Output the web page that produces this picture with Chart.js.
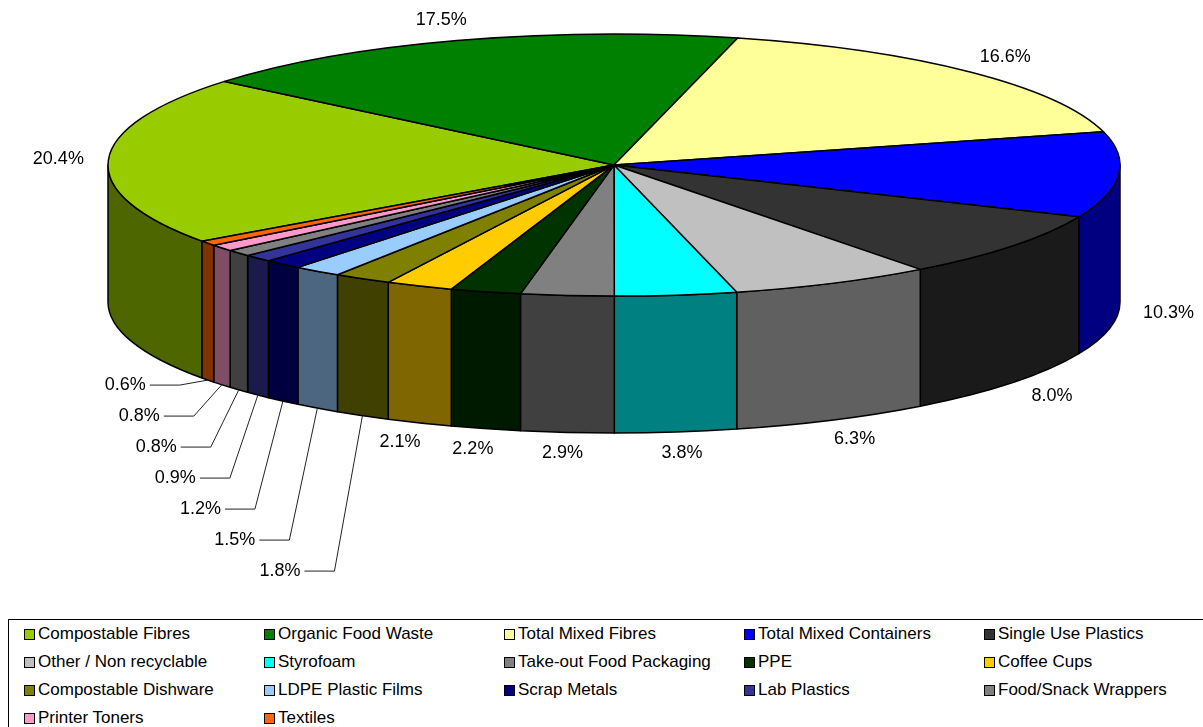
<!DOCTYPE html>
<html>
<head>
<meta charset="utf-8">
<script src="https://cdn.jsdelivr.net/npm/chart.js@4.4.0/dist/chart.umd.min.js"></script>
<style>
  body { margin: 0; background: #fff; font-family: "Liberation Sans", Arial, sans-serif; }
  #wrap { position: absolute; left: 0; top: 0; width: 1203px; height: 612px; }
  #legend { position: absolute; left: 8px; top: 619px; width: 1300px; height: 200px;
            border-top: 1.5px solid #000; border-left: 1.5px solid #000; }
  .item { position: absolute; height: 20px; display: flex; align-items: center;
          font-size: 17px; color: #000; white-space: nowrap; }
  .box { width: 9px; height: 9px; border: 1.5px solid #000; margin-right: 3px; }
</style>
</head>
<body>
<div id="wrap"><canvas id="mycanvas"></canvas></div>
<div id="legend"></div>
<script>
// data, clockwise from the left of the pie
var categories = ["Compostable Fibres", "Organic Food Waste", "Total Mixed Fibres", "Total Mixed Containers",
  "Single Use Plastics", "Other / Non recyclable", "Styrofoam", "Take-out Food Packaging", "PPE",
  "Coffee Cups", "Compostable Dishware", "LDPE Plastic Films", "Scrap Metals", "Lab Plastics",
  "Food/Snack Wrappers", "Printer Toners", "Textiles"];
var shares = [20.4, 17.5, 16.6, 10.3, 8.0, 6.3, 3.8, 2.9, 2.2, 2.1, 1.8, 1.5, 1.2, 0.9, 0.8, 0.8, 0.6];
var colors = ["#99CC00", "#008000", "#FFFF99", "#0000FF", "#333333", "#C0C0C0", "#00FFFF", "#808080", "#003300",
  "#FFCC00", "#808000", "#99CCFF", "#000080", "#333399", "#808080", "#FF99CC", "#FF6600"];

var TILT = 0.259;      // ry / rx of the top face
var LABEL_FONT = '18px "Liberation Sans", Arial, sans-serif';

function darker(hex){
  var n = parseInt(hex.slice(1), 16);
  var r = (n >> 16) & 255, g = (n >> 8) & 255, b = n & 255;
  return "rgb(" + Math.round(r/2) + "," + Math.round(g/2) + "," + Math.round(b/2) + ")";
}

var pie3d = {
  id: "pie3d",
  beforeDatasetsDraw: function(chart){
    var ctx = chart.ctx, area = chart.chartArea;
    var rx = (area.right - area.left) / 2;
    var ry = rx * TILT;
    var depth = (area.bottom - area.top) - 2 * ry;
    var cx = (area.left + area.right) / 2, cy = area.top + ry;
    var arcs = chart.getDatasetMeta(0).data;
    var TWO_PI = Math.PI * 2;

    ctx.save();
    ctx.lineWidth = 1.5;
    ctx.strokeStyle = "#000";
    ctx.lineJoin = "round";

    // outer walls, front half only
    arcs.forEach(function(arc, i){
      var p = arc.getProps(["startAngle", "endAngle"], true);
      for (var k = -1; k <= 2; k++){
        var lo = Math.max(p.startAngle, TWO_PI * k);
        var hi = Math.min(p.endAngle, TWO_PI * k + Math.PI);
        if (hi <= lo) continue;
        ctx.beginPath();
        ctx.ellipse(cx, cy, rx, ry, 0, lo, hi);
        ctx.lineTo(cx + rx * Math.cos(hi), cy + ry * Math.sin(hi) + depth);
        ctx.ellipse(cx, cy + depth, rx, ry, 0, hi, lo, true);
        ctx.closePath();
        ctx.fillStyle = darker(colors[i]);
        ctx.fill();
        ctx.stroke();
      }
    });

    // top face
    arcs.forEach(function(arc, i){
      var p = arc.getProps(["startAngle", "endAngle"], true);
      ctx.beginPath();
      ctx.moveTo(cx, cy);
      ctx.ellipse(cx, cy, rx, ry, 0, p.startAngle, p.endAngle);
      ctx.closePath();
      ctx.fillStyle = colors[i];
      ctx.fill();
      ctx.stroke();
    });

    // percentage labels
    ctx.font = LABEL_FONT;
    ctx.fillStyle = "#000";
    ctx.textBaseline = "middle";
    var items = arcs.map(function(arc, i){
      var p = arc.getProps(["startAngle", "endAngle"], true);
      var m = (p.startAngle + p.endAngle) / 2;
      var c = Math.cos(m), s = Math.sin(m);
      var front = s > 0;
      var text = shares[i].toFixed(1) + "%";
      return {
        i: i, m: m, text: text, w: ctx.measureText(text).width,
        x: cx + (rx + 50) * c,
        y: cy + (ry + 21) * s + (front ? depth : 0),
        ax: cx + rx * c, ay: cy + ry * s + (front ? depth : 0),
        leader: false
      };
    });
    var n = items.length;
    function hit(a, b){
      return Math.abs(a.x - b.x) < (a.w + b.w) / 2 + 14 && Math.abs(a.y - b.y) < 20;
    }
    items.forEach(function(it, j){
      if (hit(it, items[(j + 1) % n]) || hit(it, items[(j - 1 + n) % n])) it.leader = true;
    });

    items.filter(function(it){ return !it.leader; }).forEach(function(it){
      ctx.textAlign = "center";
      ctx.fillText(it.text, it.x, it.y);
    });

    var stacked = items.filter(function(it){ return it.leader; })
      .sort(function(a, b){ return b.m - a.m; });
    var y0 = stacked.length ? stacked[0].ay + 5 : 0;
    ctx.lineWidth = 1;
    ctx.strokeStyle = "#222";
    stacked.forEach(function(it, j){
      var y = y0 + j * 31;
      var kx = it.ax - 28;
      ctx.beginPath();
      ctx.moveTo(it.ax, it.ay);
      ctx.lineTo(kx, y);
      ctx.lineTo(kx - 30, y);
      ctx.stroke();
      ctx.textAlign = "right";
      ctx.fillText(it.text, kx - 34, y);
    });

    ctx.restore();
    return false;
  }
};

var ctx = document.getElementById("mycanvas");
var PieGraph = new Chart(ctx, {
  type: "pie",
  data: {
    labels: categories,
    datasets: [{ data: shares, backgroundColor: colors, borderColor: "#000", borderWidth: 1 }]
  },
  options: {
    responsive: true,
    maintainAspectRatio: false,
    animation: false,
    rotation: 234.5,
    events: [],
    layout: { padding: { left: 108, right: 83, top: 34, bottom: 179 } },
    plugins: { legend: { display: false }, tooltip: { enabled: false } }
  },
  plugins: [pie3d]
});

// legend, 5 columns in a framed box
var legend = document.getElementById("legend");
categories.forEach(function(name, i){
  var col = i % 5, row = Math.floor(i / 5);
  var item = document.createElement("div");
  item.className = "item";
  item.style.left = (15 + col * 240) + "px";
  item.style.top = (4 + row * 28) + "px";
  var box = document.createElement("span");
  box.className = "box";
  box.style.background = colors[i];
  item.appendChild(box);
  item.appendChild(document.createTextNode(name));
  legend.appendChild(item);
});
</script>
</body>
</html>
